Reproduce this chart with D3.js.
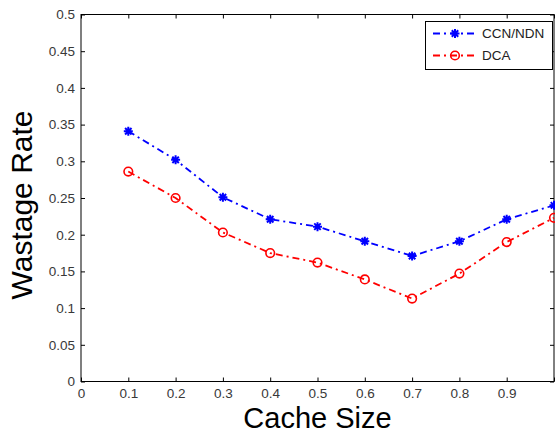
<!DOCTYPE html>
<html lang="en">
<head>
  <meta charset="UTF-8" />
  <title>Wastage Rate vs Cache Size</title>
  <script src="https://d3js.org/d3.v7.min.js"></script>
  <style>
    body {
      background: white;
      margin: 0;
      padding: 0;
      overflow: hidden;
      font-family: Arial, "Liberation Sans", sans-serif;
    }
  </style>
</head>
<body>
  <div id="viz"></div>
  <script>
    // data
    const cacheSizes = [0.1, 0.2, 0.3, 0.4, 0.5, 0.6, 0.7, 0.8, 0.9, 1.0];
    const ccnValues = [0.341, 0.302, 0.251, 0.221, 0.211, 0.191, 0.171, 0.191, 0.221, 0.240];
    const dcaValues = [0.286, 0.250, 0.203, 0.175, 0.162, 0.139, 0.113, 0.147, 0.190, 0.223];
    const xTicks = [0, 0.1, 0.2, 0.3, 0.4, 0.5, 0.6, 0.7, 0.8, 0.9, 1];
    const yTicks = [0, 0.05, 0.1, 0.15, 0.2, 0.25, 0.3, 0.35, 0.4, 0.45, 0.5];
    const seriesNames = ["CCN/NDN", "DCA"];

    const width = 555, height = 436;
    const plotLeft = 81, plotRight = 554, plotTop = 14.5, plotBottom = 381.5;

    const svg = d3.select("#viz").append("svg")
      .attr("width", width)
      .attr("height", height);

    const x = d3.scaleLinear().domain([0, 1]).range([plotLeft, plotRight]);
    const y = d3.scaleLinear().domain([0, 0.5]).range([plotBottom, plotTop]);

    const tickLen = 4;
    // the "1" label sits past the right edge of the figure, so it is left blank
    const fmt = d => d === 1 ? "" : d === 0 ? "0" : d3.format("~g")(d);

    // axes box with inward ticks on all sides
    svg.append("g")
      .attr("transform", `translate(0,${plotBottom})`)
      .call(d3.axisBottom(x).tickValues(xTicks).tickSize(-tickLen).tickPadding(7).tickFormat(fmt))
      .call(g => g.select(".domain").remove());
    svg.append("g")
      .attr("transform", `translate(0,${plotTop})`)
      .call(d3.axisTop(x).tickValues(xTicks).tickSize(-tickLen).tickFormat(""))
      .call(g => g.select(".domain").remove());
    svg.append("g")
      .attr("transform", `translate(${plotLeft},0)`)
      .call(d3.axisLeft(y).tickValues(yTicks).tickSize(-tickLen).tickPadding(6).tickFormat(fmt))
      .call(g => g.select(".domain").remove());
    svg.append("g")
      .attr("transform", `translate(${plotRight},0)`)
      .call(d3.axisRight(y).tickValues(yTicks).tickSize(-tickLen).tickFormat(""))
      .call(g => g.select(".domain").remove());

    svg.selectAll(".tick line").attr("stroke", "black");
    svg.selectAll(".tick text")
      .attr("fill", "#383838")
      .style("font-family", "Arial, 'Liberation Sans', sans-serif")
      .style("font-size", "13.5px");

    svg.append("rect")
      .attr("x", plotLeft).attr("y", plotTop)
      .attr("width", plotRight - plotLeft).attr("height", plotBottom - plotTop)
      .attr("fill", "none").attr("stroke", "black").attr("stroke-width", 1);

    // axis labels
    svg.append("text")
      .attr("x", (plotLeft + plotRight) / 2)
      .attr("y", 428)
      .attr("text-anchor", "middle")
      .style("font-size", "29px")
      .text("Cache Size");
    svg.append("text")
      .attr("transform", `translate(32,205) rotate(-90)`)
      .attr("text-anchor", "middle")
      .style("font-size", "30px")
      .text("Wastage Rate");

    const dash = "7,4,2,4";

    function starPath(cx, cy, r) {
      const d = r * 0.72;
      return `M${cx - r},${cy}H${cx + r}M${cx},${cy - r}V${cy + r}` +
        `M${cx - d},${cy - d}L${cx + d},${cy + d}M${cx - d},${cy + d}L${cx + d},${cy - d}`;
    }

    const series = [
      { name: seriesNames[0], values: ccnValues, color: "#0000ff", marker: "star" },
      { name: seriesNames[1], values: dcaValues, color: "#ff0000", marker: "circle" }
    ];

    const line = d3.line()
      .x((d, i) => x(cacheSizes[i]))
      .y(d => y(d));

    const plot = svg.append("g");

    series.forEach(s => {
      const g = plot.append("g");
      g.append("path")
        .datum(s.values)
        .attr("d", line)
        .attr("fill", "none")
        .attr("stroke", s.color)
        .attr("stroke-width", 1.8)
        .attr("stroke-dasharray", dash);

      s.values.forEach((v, i) => {
        const cx = x(cacheSizes[i]), cy = y(v);
        if (s.marker === "star") {
          g.append("path")
            .attr("d", starPath(cx, cy, 4.5))
            .attr("stroke", s.color)
            .attr("stroke-width", 2)
            .attr("fill", "none");
        } else {
          g.append("circle")
            .attr("cx", cx).attr("cy", cy).attr("r", 4.3)
            .attr("stroke", s.color)
            .attr("stroke-width", 1.6)
            .attr("fill", "none");
        }
      });
    });

    // legend
    const lg = svg.append("g");
    lg.append("rect")
      .attr("x", 425.5).attr("y", 21.5)
      .attr("width", 127).attr("height", 48)
      .attr("fill", "white").attr("stroke", "black").attr("stroke-width", 1);

    series.forEach((s, i) => {
      const ly = 33.5 + i * 22;
      lg.append("line")
        .attr("x1", 433).attr("x2", 478)
        .attr("y1", ly).attr("y2", ly)
        .attr("stroke", s.color)
        .attr("stroke-width", 1.8)
        .attr("stroke-dasharray", dash);
      if (s.marker === "star") {
        lg.append("path")
          .attr("d", starPath(455, ly, 4.5))
          .attr("stroke", s.color).attr("stroke-width", 2).attr("fill", "none");
      } else {
        lg.append("circle")
          .attr("cx", 455).attr("cy", ly).attr("r", 4.3)
          .attr("stroke", s.color).attr("stroke-width", 1.6).attr("fill", "none");
      }
      lg.append("text")
        .attr("x", 482)
        .attr("y", ly)
        .attr("dy", "0.35em")
        .attr("fill", "#222")
        .style("font-size", "13.5px")
        .text(s.name);
    });
  </script>
</body>
</html>
